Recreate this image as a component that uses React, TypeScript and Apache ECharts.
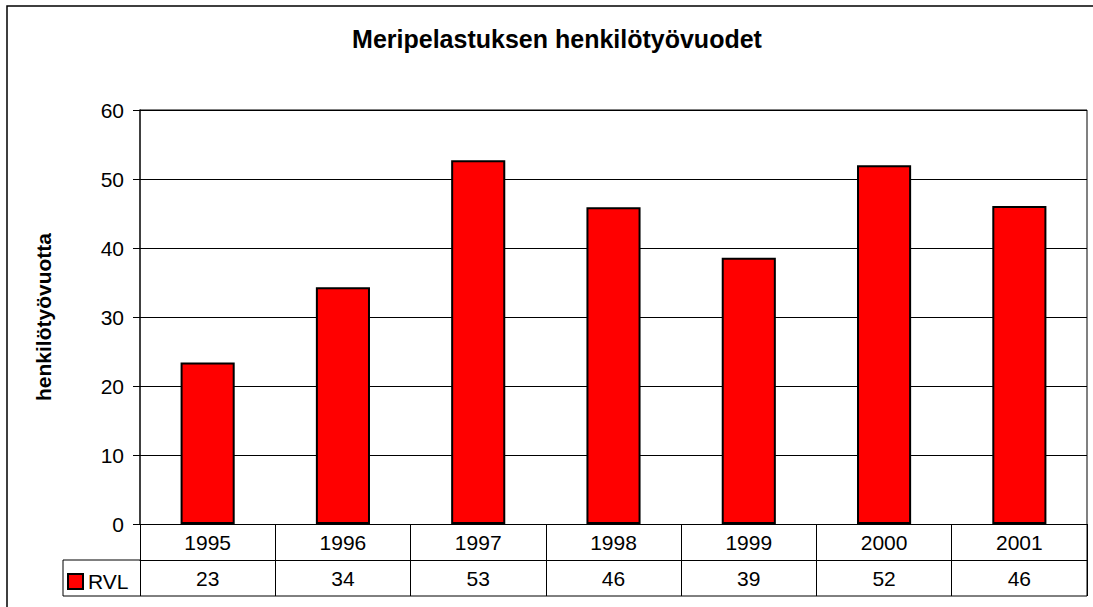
import React, { useEffect, useRef } from "react";
import * as echarts from "echarts";

const categories = ["1995", "1996", "1997", "1998", "1999", "2000", "2001"];
const rvlValues = [23.4, 34.3, 52.7, 45.9, 38.6, 52.0, 46.1];
const seriesName = "RVL";
const titleText = "Meripelastuksen henkilötyövuodet";
const yAxisTitle = "henkilötyövuotta";
const yMin = 0;
const yMax = 60;
const yStep = 10;

const FONT = "'Liberation Sans', Arial, sans-serif";

// layout
const W = 1093;
const H = 607;
const PL = 140;
const PR = 1087;
const PT = 110;
const PB = 524;
const ROW = 36;
const LEG_L = 63;
const FS = 21;

export default function App() {
  const ref = useRef<HTMLDivElement>(null);
  useEffect(() => {
    if (!ref.current) return;
    const chart = echarts.init(ref.current, null, { renderer: "svg" });
    const tableValues = rvlValues.map((v) => String(Math.round(v)));
    chart.setOption({
      animation: false,
      backgroundColor: "#ffffff",
      textStyle: { fontFamily: FONT },
      title: {
        text: titleText,
        left: 552,
        top: 21,
        textAlign: "center",
        textStyle: { fontFamily: FONT, fontSize: 25, fontWeight: "bold", color: "#000" },
      },
      legend: {
        data: [seriesName],
        left: 67,
        top: PB + ROW + 11,
        itemWidth: 15,
        itemHeight: 15,
        itemGap: 5,
        icon: "rect",
        padding: 0,
        textStyle: { fontFamily: FONT, fontSize: FS, color: "#000", padding: [2, 0, 0, 0] },
        selectedMode: false,
      },
      grid: { left: PL, top: PT, width: PR - PL, height: PB - PT, containLabel: false },
      xAxis: [
        {
          type: "category",
          data: categories,
          position: "bottom",
          axisLine: { show: true, lineStyle: { color: "#000", width: 1 } },
          axisTick: { show: true, length: ROW * 2, inside: false, lineStyle: { color: "#000", width: 1 } },
          axisLabel: {
            margin: 0,
            lineHeight: ROW,
            fontSize: FS,
            color: "#000",
            fontFamily: FONT,
          },
          splitLine: { show: false },
        },
        {
          type: "category",
          data: categories,
          position: "bottom",
          offset: ROW,
          axisLine: { show: true, lineStyle: { color: "#000", width: 1 } },
          axisTick: { show: false },
          axisLabel: {
            margin: 0,
            lineHeight: ROW,
            fontSize: FS,
            color: "#000",
            fontFamily: FONT,
            formatter: (_v: string, i: number) => tableValues[i],
          },
        },
      ],
      yAxis: {
        type: "value",
        min: yMin,
        max: yMax,
        interval: yStep,
        name: yAxisTitle,
        nameLocation: "middle",
        nameGap: 86,
        nameTextStyle: { fontFamily: FONT, fontSize: FS, fontWeight: "bold", color: "#000" },
        axisLine: { show: true, lineStyle: { color: "#000", width: 1.5 } },
        axisTick: { show: true, length: 7, inside: false, lineStyle: { color: "#000" } },
        axisLabel: { margin: 16, fontSize: FS, color: "#000", fontFamily: FONT },
        splitLine: { show: true, lineStyle: { color: "#000", width: 1 } },
      },
      series: [
        {
          name: seriesName,
          type: "bar",
          data: rvlValues,
          barWidth: "40%",
          itemStyle: { color: "#ff0000", borderColor: "#000", borderWidth: 2 },
        },
      ],
      graphic: [
        {
          type: "rect",
          shape: { x: 7, y: 6, width: W, height: H },
          style: { fill: "none", stroke: "#000", lineWidth: 1.5 },
          silent: true,
        },
        {
          type: "line",
          shape: { x1: PL, y1: PT, x2: PR, y2: PT },
          style: { stroke: "#808080", lineWidth: 2 },
          silent: true,
        },
        {
          type: "line",
          shape: { x1: PR, y1: PT, x2: PR, y2: PB + ROW * 2 },
          style: { stroke: "#808080", lineWidth: 2 },
          silent: true,
        },
        {
          type: "polyline",
          shape: {
            points: [
              [PL, PB + ROW],
              [LEG_L, PB + ROW],
              [LEG_L, PB + ROW * 2],
              [PR, PB + ROW * 2],
            ],
          },
          style: { fill: "none", stroke: "#000", lineWidth: 1 },
          silent: true,
        },
      ],
    });
    return () => chart.dispose();
  }, []);
  return (
    <div
      ref={ref}
      style={{ position: "fixed", left: 0, top: 0, width: W, height: H, background: "#fff" }}
    />
  );
}
